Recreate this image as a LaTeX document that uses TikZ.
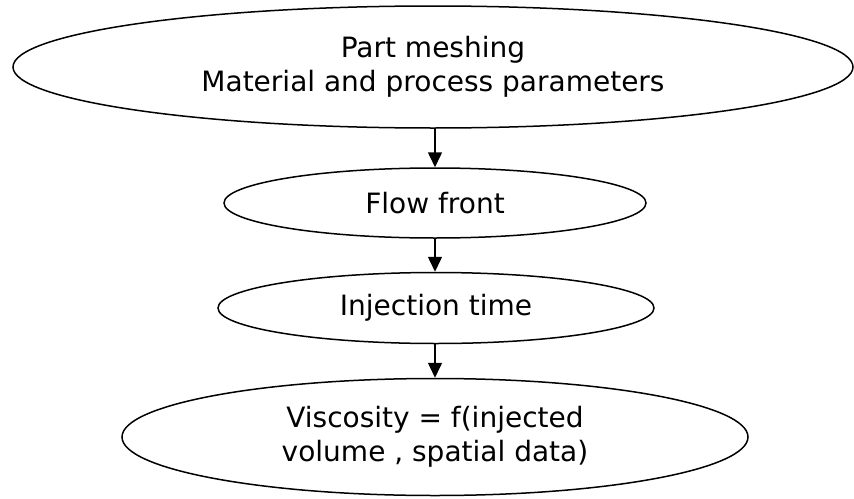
\documentclass[tikz,border=0pt]{standalone}
\usepackage{fontspec}
\setmainfont{DejaVu Sans}
\usetikzlibrary{shapes.geometric,arrows.meta}
\begin{document}
\begin{tikzpicture}[x=1pt,y=-1pt,
  oval/.style={draw, ellipse, line width=1.5pt, inner sep=0pt, align=center,
    font=\fontsize{28}{34}\selectfont},
  conn/.style={-{Triangle[length=15pt,width=14pt]}, line width=1.5pt}]
\useasboundingbox (0,0) rectangle (854,498);
\node[oval, minimum width=840pt, minimum height=122pt] (a) at (433,67)
  {Part meshing\\Material and process parameters};
\node[oval, minimum width=422pt, minimum height=70pt] (b) at (435,203) {Flow front};
\node[oval, minimum width=436pt, minimum height=71pt] (c) at (436,308) {Injection time};
\node[oval, minimum width=626pt, minimum height=117pt] (d) at (435,437)
  {Viscosity = f(injected\\volume , spatial data)};
\draw[conn] (b.north |- a.south) -- (b.north);
\draw[conn] (b.south) -- (c.north -| b.south);
\draw[conn] (c.south -| b.south) -- (d.north -| b.south);
\end{tikzpicture}
\end{document}
